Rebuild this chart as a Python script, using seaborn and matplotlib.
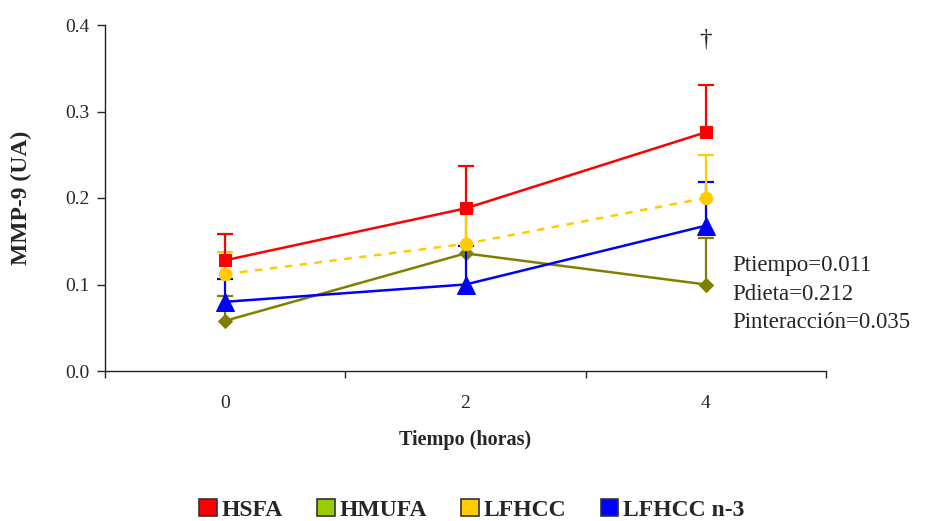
import numpy as np
import pandas as pd
import matplotlib
matplotlib.use("Agg")
import matplotlib.pyplot as plt
from matplotlib.patches import Patch
import seaborn as sns

times = ["0", "2", "4"]
groups = ["HSFA", "HMUFA", "LFHCC", "LFHCC n-3"]
hsfa = [0.128, 0.188, 0.276]
hsfa_err = [0.030, 0.049, 0.055]
hmufa = [0.058, 0.136, 0.100]
hmufa_err = [0.029, 0.050, 0.054]
lfhcc = [0.112, 0.147, 0.200]
lfhcc_err = [0.026, 0.038, 0.050]
lfhcc3 = [0.080, 0.100, 0.168]
lfhcc3_err = [0.026, 0.045, 0.051]
stats_text = ["Ptiempo=0.011", "Pdieta=0.212", "Pinteracción=0.035"]

sns.set_style("ticks")
plt.rcParams["font.family"] = ["Liberation Serif", "DejaVu Serif"]

fig = plt.figure(figsize=(9.44, 5.21), dpi=100)
ax = fig.add_axes([105/944, 1-371/521, (826-105)/944, (371-25)/521])

series = [
    ("HSFA", hsfa, hsfa_err, "#ff0000", "s", "-", 9, 8),
    ("HMUFA", hmufa, hmufa_err, "#808000", "D", "-", 7, 5),
    ("LFHCC", lfhcc, lfhcc_err, "#ffcc00", "o", (0, (3, 3)), 9, 7),
    ("LFHCC n-3", lfhcc3, lfhcc3_err, "#0000ff", "^", "-", 13, 6),
]
legend_colors = ["#ff0000", "#99cc00", "#ffcc00", "#0000ff"]

x = np.arange(len(times))
for name, vals, errs, col, mk, ls, ms, z in series:
    df = pd.DataFrame({"x": x, "y": vals})
    eb = ax.errorbar(x, vals, yerr=[np.zeros(len(vals)), errs], fmt="none",
                     ecolor=col, elinewidth=1.6, capsize=6, capthick=1.6, zorder=z - 0.5)
    # keep only the upper caps
    eb[1][0].remove()
    sns.lineplot(data=df, x="x", y="y", ax=ax, color=col, linestyle=ls,
                 linewidth=1.8, marker=mk, markersize=ms, markeredgecolor=col,
                 markerfacecolor=col, zorder=z)

ax.set_xlim(-0.5, 2.5)
ax.set_ylim(0, 0.4)
ax.set_xticks(x)
ax.set_xticklabels(times)
ax.set_xticks([-0.5, 0.5, 1.5, 2.5], minor=True)
ax.tick_params(axis="x", which="major", length=0, pad=17, labelsize=14)
ax.tick_params(axis="x", which="minor", length=5, direction="out", width=1)
ax.set_yticks([0, 0.1, 0.2, 0.3, 0.4])
ax.set_yticklabels([f"{v:.1f}" for v in [0, 0.1, 0.2, 0.3, 0.4]])
ax.tick_params(axis="y", length=6, direction="out", labelsize=14, width=1, pad=5)
sns.despine(ax=ax)
for s in ["left", "bottom"]:
    ax.spines[s].set_linewidth(1)
    ax.spines[s].set_color("#222222")

ax.set_xlabel("Tiempo (horas)", fontsize=14.5, fontweight="bold", labelpad=13)
ax.set_ylabel("MMP-9 (UA)", fontsize=17, fontweight="bold")
ax.yaxis.set_label_coords(-73/721, 0.5)

ax.text(2, 0.383, "†", ha="center", va="center", fontsize=18)
for i, t in enumerate(stats_text):
    ax.text(2.11, 0.122 - i * 0.033, t, ha="left", va="center", fontsize=16.5)

handles = [Patch(facecolor=c, edgecolor="#333333", linewidth=1.2) for c in legend_colors]
leg = fig.legend(handles, groups, loc="lower center", bbox_to_anchor=(0.5, -0.04),
                 ncol=4, frameon=False, handlelength=0.75, handleheight=0.75,
                 handletextpad=0.2, columnspacing=1.45,
                 prop={"family": "Liberation Serif", "weight": "bold", "size": 17})

fig.savefig("out.png", dpi=100)
